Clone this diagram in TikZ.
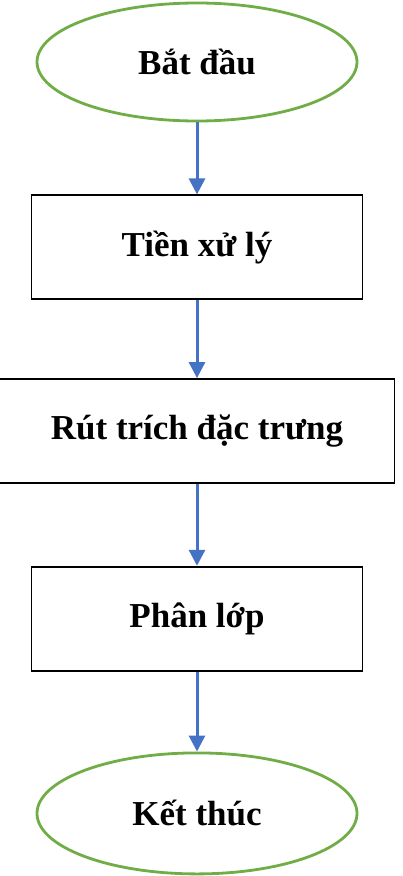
\documentclass[tikz,border=0pt]{standalone}
\usepackage{fontspec}
\setmainfont{Liberation Serif}
\usetikzlibrary{arrows.meta, positioning, shapes.geometric}
\definecolor{cgreen}{HTML}{70AD47}
\definecolor{cblue}{HTML}{4472C4}
\tikzset{
  every picture/.style={font=\fontsize{35}{40}\selectfont\bfseries},
  terminal/.style={ellipse, draw=cgreen, line width=2.8pt, minimum width=320pt, minimum height=118pt, inner sep=0pt},
  stepbox/.style={rectangle, draw=black, line width=1.7pt, minimum width=#1, minimum height=104pt, inner sep=0pt},
  stepbox/.default=331pt,
  arrow/.style={-{Triangle[length=16pt, width=16pt]}, draw=cblue, line width=3pt},
}
\begin{document}
\begin{tikzpicture}[x=1pt, y=-1pt]
  \useasboundingbox (0,0) rectangle (402,876);
  % start and end of the flow
  \node[terminal] (start) at (197,62) {Bắt đầu};
  \node[stepbox, below=72pt of start] (prep) {Tiền xử lý};
  \node[stepbox=395pt, below=78pt of prep] (feat) {Rút trích đặc trưng};
  \node[stepbox, below=82pt of feat] (cls) {Phân lớp};
  \node[terminal, minimum height=121pt, below=80pt of cls] (stop) {Kết thúc};
  % connectors
  \draw[arrow] (start) -- (prep);
  \draw[arrow] (prep) -- (feat);
  \draw[arrow] (feat) -- (cls);
  \draw[arrow] (cls) -- (stop);
\end{tikzpicture}
\end{document}
